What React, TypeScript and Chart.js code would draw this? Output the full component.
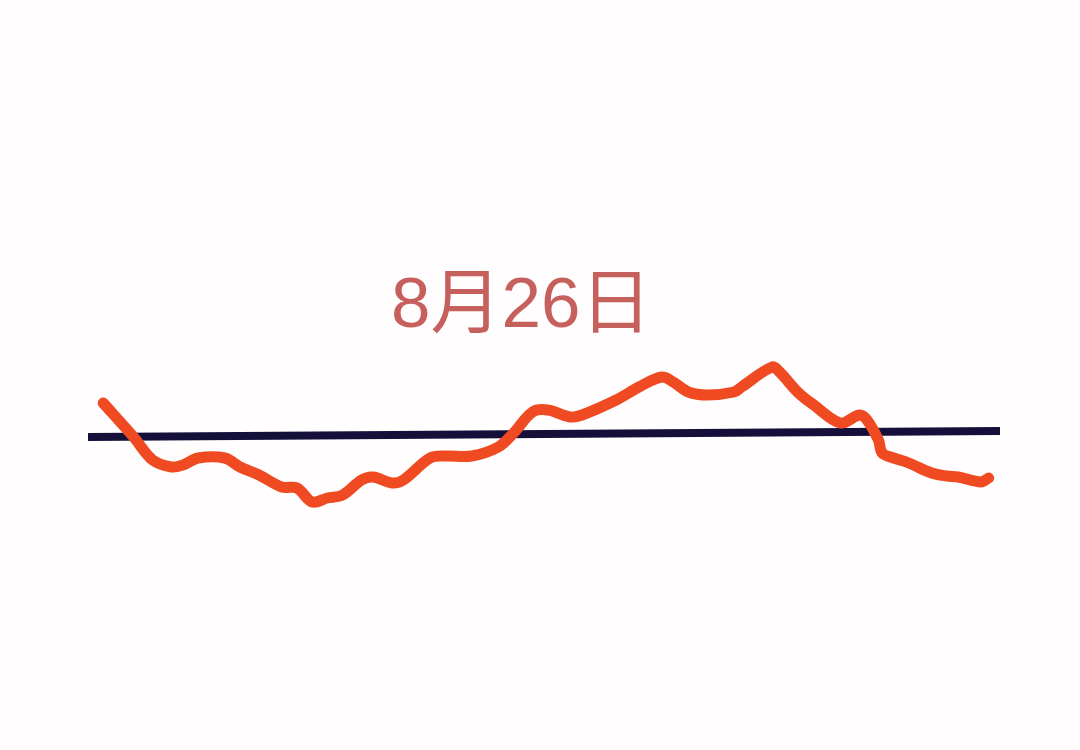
import React, { useEffect, useRef } from "react";
import { Chart, registerables } from "chart.js";

Chart.register(...registerables);

// Label drawn above the line
const titleText = "8月26日";
const titlePosMinute = 114;
const titleBaselinePct = 1.08;

// Intraday trace: minute of session (0-240) and % change
const minutes = [
  4, 12, 17, 22, 25, 29, 36, 40, 45, 51, 55, 59, 63, 67, 72, 75, 80, 83, 90, 94,
  101, 108, 112, 117, 121, 127, 130, 139, 145, 151, 154, 158, 163, 170, 172,
  180, 182, 187, 191, 198, 203, 205, 208, 209, 212, 216, 222, 226, 229, 235, 237,
];
const changePct = [
  0.32, -0.02, -0.25, -0.32, -0.3, -0.23, -0.23, -0.32, -0.4, -0.52, -0.53, -0.67,
  -0.63, -0.6, -0.45, -0.42, -0.48, -0.45, -0.23, -0.21, -0.21, -0.12, 0.02, 0.23,
  0.25, 0.18, 0.2, 0.35, 0.48, 0.58, 0.53, 0.43, 0.4, 0.43, 0.48, 0.68, 0.63,
  0.42, 0.3, 0.12, 0.2, 0.15, -0.05, -0.18, -0.23, -0.28, -0.38, -0.41, -0.42,
  -0.47, -0.43,
];

// Reference (previous close) line
const refMinutes = [0, 240];
const refLevel = [-0.02, 0.04];

const textPlugin = {
  id: "centerLabel",
  afterDraw(chart: any) {
    const { ctx, scales } = chart;
    const x = scales.x.getPixelForValue(titlePosMinute);
    const y = scales.y.getPixelForValue(titleBaselinePct);
    ctx.save();
    ctx.font = '71px "Liberation Sans", "Noto Sans CJK SC", sans-serif';
    ctx.fillStyle = "#c6605d";
    ctx.textAlign = "center";
    ctx.textBaseline = "alphabetic";
    ctx.fillText(titleText, x, y);
    ctx.restore();
  },
};

const bgPlugin = {
  id: "bg",
  beforeDraw(chart: any) {
    const { ctx, width, height } = chart;
    ctx.save();
    ctx.fillStyle = "#fffdfd";
    ctx.fillRect(0, 0, width, height);
    ctx.restore();
  },
};

export default function App() {
  const ref = useRef<HTMLCanvasElement>(null);
  useEffect(() => {
    if (!ref.current) return;
    const chart = new Chart(ref.current, {
      type: "line",
      data: {
        datasets: [
          {
            data: minutes.map((m, i) => ({ x: m, y: changePct[i] })),
            borderColor: "#f04a22",
            borderWidth: 11,
            borderCapStyle: "round",
            borderJoinStyle: "round",
            tension: 0.35,
            pointRadius: 0,
            order: 0,
          },
          {
            data: refMinutes.map((m, i) => ({ x: m, y: refLevel[i] })),
            borderColor: "#14103a",
            borderWidth: 8,
            borderCapStyle: "round",
            pointRadius: 0,
            order: 1,
          },
        ],
      },
      options: {
        responsive: false,
        animation: false,
        layout: { padding: { left: 88, right: 80, top: 235, bottom: 115 } },
        plugins: { legend: { display: false }, tooltip: { enabled: false }, title: { display: false } },
        scales: {
          x: { type: "linear", min: 0, max: 240, display: false },
          y: { type: "linear", min: -2, max: 2, display: false },
        },
      },
      plugins: [bgPlugin, textPlugin],
    });
    return () => chart.destroy();
  }, []);
  return (
    <div style={{ position: "fixed", left: 0, top: 0, width: 1080, height: 750, background: "#fffdfd" }}>
      <canvas ref={ref} width={1080} height={750} />
    </div>
  );
}
